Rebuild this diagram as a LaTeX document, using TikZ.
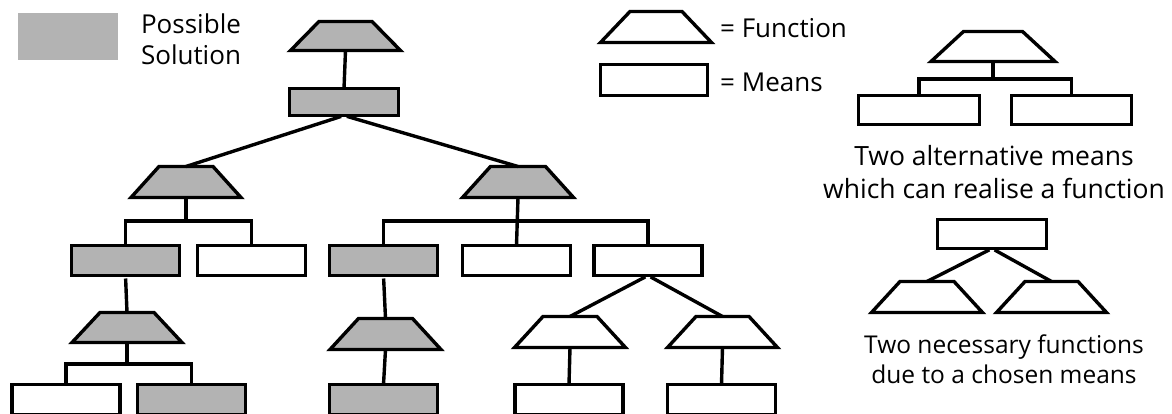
\documentclass[tikz,border=0pt]{standalone}
\usepackage{fontspec}
\setmainfont{Open Sans}
\definecolor{solgray}{RGB}{179,179,179}
\tikzset{
  means/.style={draw, line width=3.4pt, minimum width=108pt, minimum height=30pt, inner sep=0pt, outer sep=0pt},
  fnbox/.style={inner sep=0pt, outer sep=0pt},
  fnline/.style={draw, line width=3.4pt, line join=miter},
  link/.style={line width=3.4pt},
  fromm/.style={link, shorten <=3pt},
  lbl/.style={font=\fontsize{26}{31}\selectfont, inner sep=0pt},
}
% name, x, y, fill, width, height, offset
\newcommand{\FnShape}[7]{%
  \node[fnbox, minimum width=#5pt, minimum height=#6pt] (#1) at (#2,#3) {};
  \draw[fnline, fill=#4] (#1.south west) -- (#1.south east) -- ([xshift=-#7pt]#1.north east) -- ([xshift=#7pt]#1.north west) -- cycle;}
\begin{document}
\begin{tikzpicture}[x=1pt, y=-1pt]
\useasboundingbox (0,0) rectangle (1172,414);
% legend: possible solution
\node[fill=solgray, minimum width=100pt, minimum height=47pt, inner sep=0pt] (leg) at (68,36.5) {};
\node[lbl, align=center] (legtxt) at (191,39) {Possible\\Solution};
% legend: function / means
\FnShape{lt}{656}{27}{white}{111}{31}{29.5}
\node[lbl, anchor=west] (ltxt) at (720,28) {= Function};
\node[means, minimum width=107pt, minimum height=31pt] (lr) at (654,80) {};
\node[lbl, anchor=west] (lrtxt) at (720,82) {= Means};

% main tree
\FnShape{t0}{345.5}{36}{solgray}{110}{29}{28.5}
\node[means, fill=solgray, minimum width=109pt, minimum height=27pt] (r0) at (344,102) {};
\draw[link] (t0.south) -- (r0.north);

\FnShape{t1}{186}{182}{solgray}{110}{31}{28}
\FnShape{t2}{518}{182}{solgray}{111}{31}{28}
\draw[fromm] (r0.south) -- (t1.north);
\draw[fromm] (r0.south) -- (t2.north);

\node[means, fill=solgray] (r1a) at (125.5,260.5) {};
\node[means] (r1b) at (251.5,260.5) {};
\node[means, fill=solgray] (r2a) at (383.5,260.5) {};
\node[means] (r2b) at (516.5,260.5) {};
\node[means] (r2c) at (648,260.5) {};

\coordinate (b1) at (186,221);
\draw[link] (t1.south) -- (b1);
\draw[link] (r1a.north) |- (b1) -| (r1b.north);
\coordinate (b2) at (517,221);
\draw[link] (t2.south) -- (r2b.north);
\draw[link] (r2a.north) |- (b2) -| (r2c.north);

\FnShape{t3}{127}{327.5}{solgray}{110}{30}{28}
\FnShape{t4}{385.5}{334}{solgray}{111}{31}{28.5}
\FnShape{t5}{570}{332}{white}{111}{31}{28.5}
\FnShape{t6}{722.5}{332}{white}{110}{31}{28.5}
\draw[fromm] (r1a.south) -- (t3.north);
\draw[fromm] (r2a.south) -- (t4.north);
\draw[fromm] (r2c.south) -- (t5.north);
\draw[fromm] (r2c.south) -- (t6.north);

\node[means, anchor=north] (r3a) at (66,384.5) {};
\node[means, fill=solgray, anchor=north] (r3b) at (191.5,384.5) {};
\node[means, fill=solgray, anchor=north] (r4) at (383.5,384.5) {};
\node[means, anchor=north] (r5) at (569,384.5) {};
\node[means, anchor=north] (r6) at (721.5,384.5) {};

\coordinate (b3) at (127,364);
\draw[link] (t3.south) -- (b3);
\draw[link] (r3a.north) |- (b3) -| (r3b.north);
\draw[link] (t4.south) -- (r4.north);
\draw[link] (t5.south) -- (r5.north);
\draw[link] (t6.south) -- (r6.north);

% right examples
\FnShape{rt}{993}{46.5}{white}{124}{30}{32.5}
\node[means, minimum width=121pt, minimum height=29pt] (r7) at (919,110) {};
\node[means, minimum width=120pt, minimum height=29pt] (r8) at (1071.5,110) {};
\coordinate (b4) at (993,79);
\draw[link] (rt.south) -- (b4);
\draw[link] (r7.north) |- (b4) -| (r8.north);
\node[lbl, align=center, font=\fontsize{26.5}{33}\selectfont] (txt1) at (994,172) {Two alternative means\\which can realise a function};

\node[means, minimum width=109pt, minimum height=29pt] (r9) at (992,234) {};
\FnShape{t7}{927}{297}{white}{111}{31}{28.5}
\FnShape{t8}{1051.5}{297}{white}{110}{31}{28.5}
\draw[fromm] (r9.south) -- (t7.north);
\draw[fromm] (r9.south) -- (t8.north);
\node[lbl, align=center, font=\fontsize{24.5}{30}\selectfont] (txt2) at (1004,359) {Two necessary functions\\due to a chosen means};
\end{tikzpicture}
\end{document}
